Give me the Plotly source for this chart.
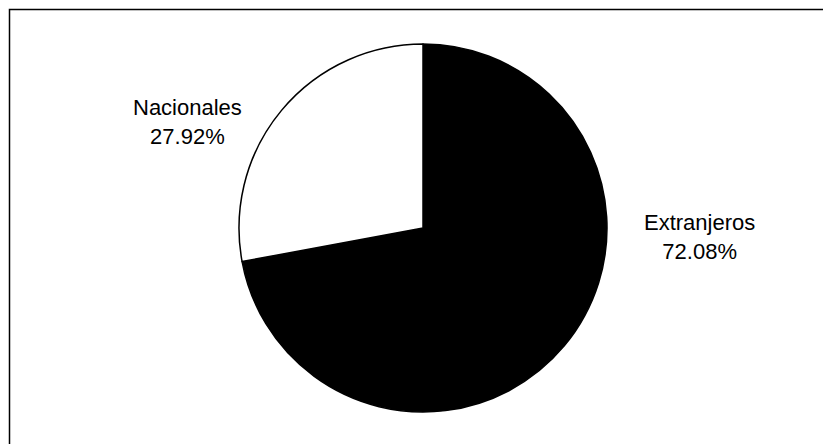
import plotly.graph_objects as go

labels = ["Nacionales", "Extranjeros"]
values = [27.92, 72.08]
colors = ["#ffffff", "#000000"]

W, H = 823, 444
cx, cy, r = 423, 228, 184

# plotly draws the first slice clockwise from 12 o'clock; the reference has
# Nacionales counter-clockwise from 12, so feed the slices in reverse order
fig = go.Figure()
fig.add_trace(go.Pie(
    labels=labels[::-1],
    values=values[::-1],
    sort=False,
    direction="clockwise",
    rotation=0,
    marker=dict(colors=colors[::-1], line=dict(color="#000000", width=1.5)),
    textinfo="none",
    showlegend=False,
    domain=dict(x=[(cx - r) / W, (cx + r) / W], y=[(H - cy - r) / H, (H - cy + r) / H]),
))

label_pos = {"Nacionales": (187.5, 122), "Extranjeros": (699, 237)}
for lab, val in zip(labels, values):
    px, py = label_pos[lab]
    fig.add_annotation(
        x=px / W, y=1 - py / H, xref="paper", yref="paper",
        text=f"{lab}<br>{val:.2f}%", showarrow=False,
        xanchor="center", yanchor="middle", align="center",
        font=dict(family="Liberation Sans, Arial, sans-serif", size=22, color="#000000"),
    )

fig.add_shape(type="rect", xref="paper", yref="paper",
              x0=9.5 / W, x1=1.05, y0=-0.05, y1=1 - 9.5 / H,
              line=dict(color="#000000", width=1.5))

fig.update_layout(
    width=W, height=H,
    margin=dict(l=0, r=0, t=0, b=0),
    paper_bgcolor="#ffffff", plot_bgcolor="#ffffff",
)
fig.write_html("out.html", config={"displayModeBar": False},
               post_script="document.body.style.margin='0';document.body.style.padding='0';document.body.style.overflow='hidden';")
